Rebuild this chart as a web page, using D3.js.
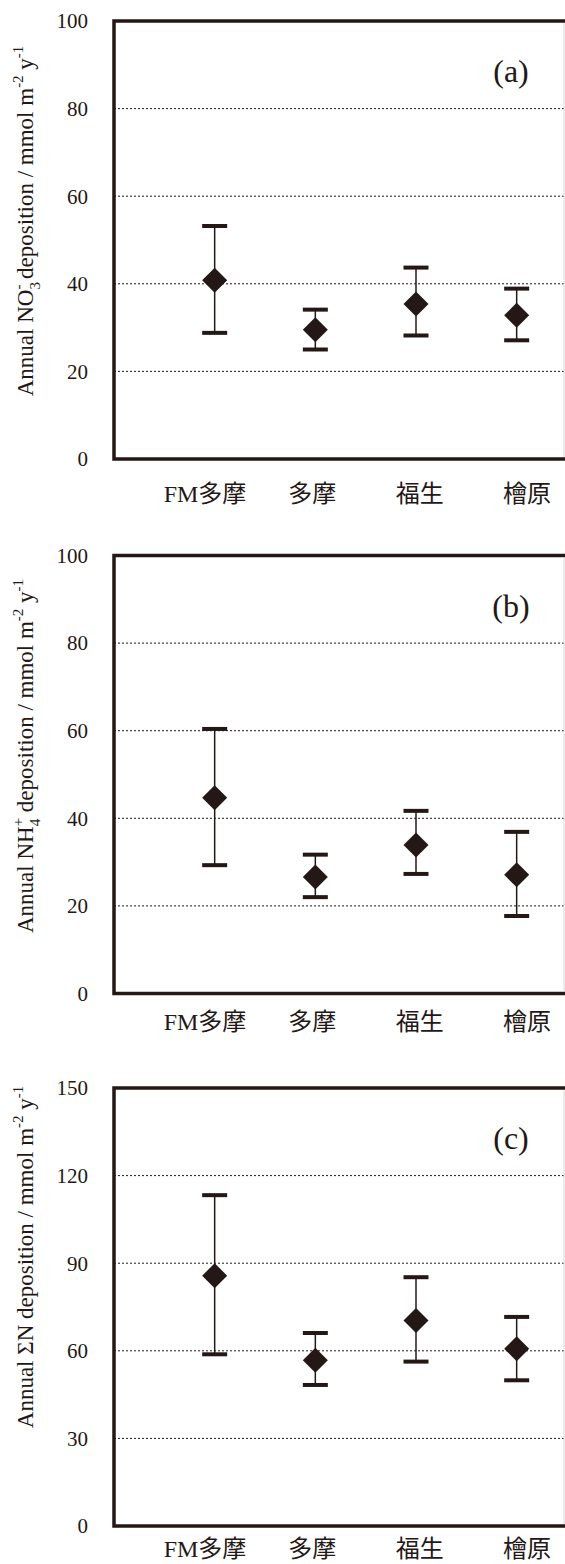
<!DOCTYPE html>
<html>
<head>
<meta charset="utf-8">
<script src="https://cdn.jsdelivr.net/npm/d3@7"></script>
<style>
  body { margin: 0; background: #fff; }
  svg { display: block; }
</style>
</head>
<body>
<div id="chart"></div>
<script>
// sites
const categories = ["FM多摩", "多摩", "福生", "檜原"];

// (a) NO3- deposition
const no3Mean  = [40.8, 29.5, 35.4, 32.8];
const no3Upper = [53.2, 34.1, 43.7, 38.9];
const no3Lower = [28.8, 25.0, 28.2, 27.1];

// (b) NH4+ deposition
const nh4Mean  = [44.7, 26.6, 33.9, 27.1];
const nh4Upper = [60.4, 31.7, 41.7, 36.9];
const nh4Lower = [29.3, 22.0, 27.3, 17.7];

// (c) total N deposition
const totalMean  = [85.7, 56.8, 70.4, 60.7];
const totalUpper = [113.3, 66.1, 85.2, 71.6];
const totalLower = [58.8, 48.3, 56.3, 49.9];

const ticksAB = [0, 20, 40, 60, 80, 100];
const ticksC  = [0, 30, 60, 90, 120, 150];

const ink = "#231815";
const serif = "'Liberation Serif', 'Times New Roman', serif";
const mixed = "'Liberation Serif', 'Noto Sans CJK JP', serif";

const W = 565, H = 1564;
const left = 114, right = 567, plotH = 438;

const svg = d3.select("#chart").append("svg")
  .attr("width", W)
  .attr("height", H);

const panels = [
  { letter: "(a)", top: 21, ticks: ticksAB, mean: no3Mean, upper: no3Upper, lower: no3Lower, labelY: 221, catDy: 43,
    label: [["Annual NO", ""], ["3", "sub"], ["-", "stack"], [" deposition / mmol m", ""], ["-2", "sup"], [" y", ""], ["-1", "sup"]] },
  { letter: "(b)", top: 555.5, ticks: ticksAB, mean: nh4Mean, upper: nh4Upper, lower: nh4Lower, labelY: 756, catDy: 36,
    label: [["Annual NH", ""], ["4", "sub"], ["+", "stack"], [" deposition / mmol m", ""], ["-2", "sup"], [" y", ""], ["-1", "sup"]] },
  { letter: "(c)", top: 1088, ticks: ticksC, mean: totalMean, upper: totalUpper, lower: totalLower, labelY: 1257, catDy: 31,
    label: [["Annual \u03A3N deposition / mmol m", ""], ["-2", "sup"], [" y", ""], ["-1", "sup"]] }
];

const x = d3.scaleLinear().domain([0, 4.5]).range([left, right]);
// category text boxes sit a little wider apart than the points
const xLabel = d3.scaleLinear().domain([1, 4]).range([205, 527]);

function addAxisTitle(g, parts, fs, cx, cy) {
  const t = g.append("text")
    .attr("transform", `translate(${cx},${cy}) rotate(-90)`)
    .attr("text-anchor", "middle")
    .attr("font-family", serif)
    .attr("font-size", fs)
    .attr("fill", ink);
  let shift = 0;
  parts.forEach(([s, kind]) => {
    const target = kind === "sub" ? fs * 0.3 : (kind === "sup" || kind === "stack") ? -fs * 0.42 : 0;
    const ts = t.append("tspan").attr("dy", target - shift).text(s);
    if (kind !== "") ts.attr("font-size", fs * 0.65);
    if (kind === "stack") ts.attr("dx", -fs * 0.65 * 0.5);
    shift = target;
  });
}

panels.forEach(p => {
  const yMax = p.ticks[p.ticks.length - 1];
  const y = d3.scaleLinear().domain([0, yMax]).range([p.top + plotH, p.top]);
  const g = svg.append("g");

  // dotted grid lines
  g.selectAll("line.grid")
    .data(p.ticks.filter(t => t > 0 && t < yMax))
    .enter().append("line")
    .attr("class", "grid")
    .attr("x1", left).attr("x2", W)
    .attr("y1", d => y(d)).attr("y2", d => y(d))
    .attr("stroke", ink)
    .attr("stroke-width", 1)
    .attr("stroke-dasharray", "2,2");

  // tick labels
  g.selectAll("text.tick")
    .data(p.ticks)
    .enter().append("text")
    .attr("class", "tick")
    .attr("x", 88)
    .attr("y", d => y(d))
    .attr("dy", "0.35em")
    .attr("text-anchor", "end")
    .attr("font-family", serif)
    .attr("font-size", 21)
    .attr("fill", ink)
    .text(d => d);

  // frame
  g.append("rect")
    .attr("x", left).attr("y", p.top)
    .attr("width", right + 10 - left).attr("height", plotH)
    .attr("fill", "none")
    .attr("stroke", ink)
    .attr("stroke-width", 3.5);
  g.append("line")
    .attr("x1", 564).attr("x2", 564)
    .attr("y1", p.top + 2).attr("y2", p.top + plotH - 2)
    .attr("stroke", "#d8d8d8")
    .attr("stroke-width", 1);

  const rows = categories.map((c, i) => ({ i: i + 1, mean: p.mean[i], hi: p.upper[i], lo: p.lower[i] }));

  // error bars
  g.selectAll("line.err")
    .data(rows)
    .enter().append("line")
    .attr("class", "err")
    .attr("x1", d => x(d.i)).attr("x2", d => x(d.i))
    .attr("y1", d => y(d.hi)).attr("y2", d => y(d.lo))
    .attr("stroke", ink)
    .attr("stroke-width", 1.5);

  ["hi", "lo"].forEach(k => {
    g.selectAll("line.cap-" + k)
      .data(rows)
      .enter().append("line")
      .attr("class", "cap-" + k)
      .attr("x1", d => x(d.i) - 12.5).attr("x2", d => x(d.i) + 12.5)
      .attr("y1", d => y(d[k])).attr("y2", d => y(d[k]))
      .attr("stroke", ink)
      .attr("stroke-width", 4);
  });

  // diamonds
  g.selectAll("path.pt")
    .data(rows)
    .enter().append("path")
    .attr("class", "pt")
    .attr("d", d3.symbol(d3.symbolSquare, 313))
    .attr("transform", d => `translate(${x(d.i)},${y(d.mean)}) rotate(45)`)
    .attr("fill", ink);

  // category labels
  g.selectAll("text.cat")
    .data(rows)
    .enter().append("text")
    .attr("class", "cat")
    .attr("x", d => xLabel(d.i))
    .attr("y", p.top + plotH + p.catDy)
    .attr("text-anchor", "middle")
    .attr("font-family", mixed)
    .attr("font-size", 24)
    .attr("fill", ink)
    .text((d, i) => categories[i]);

  // panel letter
  g.append("text")
    .attr("x", 511)
    .attr("y", p.top + 61)
    .attr("text-anchor", "middle")
    .attr("font-family", serif)
    .attr("font-size", 32)
    .attr("fill", ink)
    .text(p.letter);

  addAxisTitle(g, p.label, 23, 33, p.labelY);
});
</script>
</body>
</html>
